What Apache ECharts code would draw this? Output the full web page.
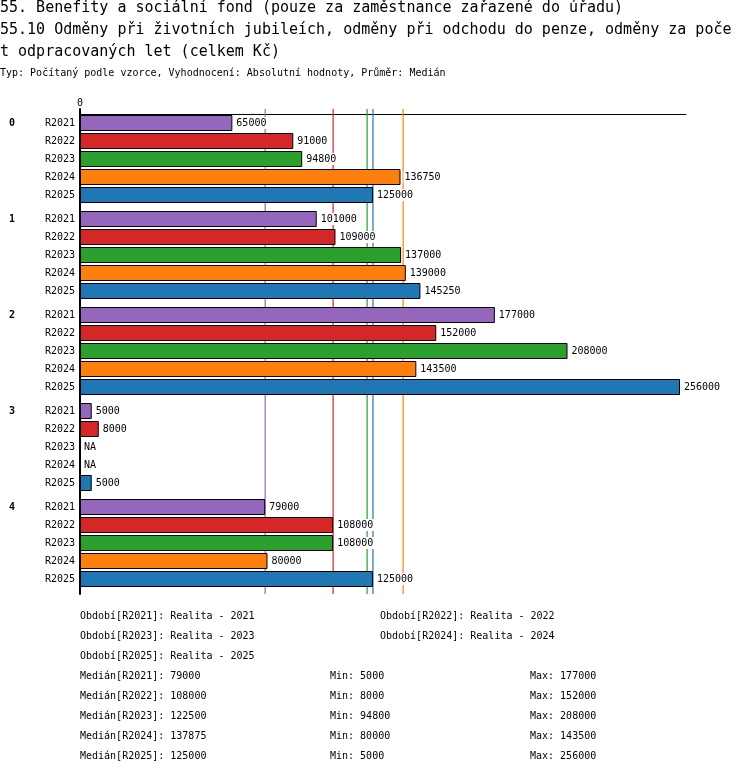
<!DOCTYPE html>
<html>
<head>
<meta charset="utf-8">
<script src="https://cdn.jsdelivr.net/npm/echarts@6/dist/echarts.min.js"></script>
<style>
	html, body { margin: 0; padding: 0; background: #fff; }
	#chart { width: 750px; height: 774px; }
</style>
</head>
<body>
<div id="chart"></div>
<script>
var titleLines = [
	'55. Benefity a sociální fond (pouze za zaměstnance zařazené do úřadu)',
	'55.10 Odměny při životních jubileích, odměny při odchodu do penze, odměny za poče',
	't odpracovaných let (celkem Kč)'
];
var subtitle = 'Typ: Počítaný podle vzorce, Vyhodnocení: Absolutní hodnoty, Průměr: Medián';

var groups = ['0', '1', '2', '3', '4'];
var periods = ['R2021', 'R2022', 'R2023', 'R2024', 'R2025'];
var periodNames = ['Realita - 2021', 'Realita - 2022', 'Realita - 2023', 'Realita - 2024', 'Realita - 2025'];
var colors = ['#9467bd', '#d62728', '#2ca02c', '#ff7f0e', '#1f77b4'];

// hodnoty podle období, jedna položka na skupinu (null = NA)
var r2021 = [65000, 101000, 177000, 5000, 79000];
var r2022 = [91000, 109000, 152000, 8000, 108000];
var r2023 = [94800, 137000, 208000, null, 108000];
var r2024 = [136750, 139000, 143500, null, 80000];
var r2025 = [125000, 145250, 256000, 5000, 125000];
var values = [r2021, r2022, r2023, r2024, r2025];

var xMax = 258560;
var mono = 'DejaVu Sans Mono';

function median(arr) {
	var a = arr.filter(function(v) { return v !== null; }).sort(function(x, y) { return x - y; });
	var m = Math.floor(a.length / 2);
	return a.length % 2 ? a[m] : (a[m - 1] + a[m]) / 2;
}
function realOnly(arr) {
	return arr.filter(function(v) { return v !== null; });
}

var left = 80, width = 606, top0 = 114, groupStep = 96, rowH = 18;

var grids = [], xAxes = [], yAxes = [], series = [];

groups.forEach(function(g, gi) {
	grids.push({ left: left, width: width, top: top0 + gi * groupStep, height: rowH * periods.length });
	xAxes.push({
		gridIndex: gi, type: 'value', min: 0, max: xMax,
		position: 'top',
		show: gi === 0,
		axisLine: { show: true, lineStyle: { color: '#000', width: 1 } },
		axisTick: { show: true, customValues: [0], length: 5, lineStyle: { color: '#000', width: 2 } },
		axisLabel: { show: true, customValues: [0], margin: 6, color: '#000', fontFamily: mono, fontSize: 10 },
		splitLine: { show: false }
	});
	yAxes.push({
		gridIndex: gi, type: 'category', inverse: true, data: periods,
		axisLine: { show: false }, axisTick: { show: false },
		axisLabel: { margin: 5, color: '#000', fontFamily: mono, fontSize: 10 }
	});
	yAxes.push({
		gridIndex: gi, type: 'category', inverse: true,
		data: [g, '', '', '', ''],
		position: 'left', offset: 71,
		axisLine: { show: false }, axisTick: { show: false },
		axisLabel: { margin: 0, align: 'left', color: '#000', fontFamily: mono, fontSize: 10, fontWeight: 'bold' }
	});
	series.push({
		type: 'bar',
		xAxisIndex: gi,
		yAxisIndex: gi * 2,
		barWidth: 16,
		silent: true,
		z: 3,
		data: periods.map(function(p, pi) {
			var v = values[pi][gi];
			if (v === null) {
				return {
					value: 0,
					itemStyle: { color: 'rgba(0,0,0,0)', borderWidth: 0 },
					label: { formatter: 'NA' }
				};
			}
			return { value: v, itemStyle: { color: colors[pi] } };
		}),
		itemStyle: { borderColor: '#000', borderWidth: 1 },
		label: {
			show: true, position: 'right', distance: 3,
			color: '#000', fontFamily: mono, fontSize: 10,
			backgroundColor: '#fff', padding: [1, 1, 1, 1]
		}
	});
});

// překryvná mřížka pro mediány a levou osu
var ov = groups.length;
grids.push({ left: left, width: width, top: 109, height: 485 });
xAxes.push({ gridIndex: ov, type: 'value', min: 0, max: xMax, show: false });
yAxes.push({
	gridIndex: ov, type: 'value', min: 0, max: 1,
	axisLine: { show: true, lineStyle: { color: '#000', width: 2 } },
	axisTick: { show: false }, axisLabel: { show: false }, splitLine: { show: false }
});
periods.forEach(function(p, pi) {
	var m = median(values[pi]);
	series.push({
		type: 'line',
		xAxisIndex: ov,
		yAxisIndex: yAxes.length - 1,
		data: [[m, 0], [m, 1]],
		symbol: 'none',
		silent: true,
		z: 1,
		lineStyle: { color: colors[pi], width: 1.2 }
	});
});

// texty
var graphics = [];
var txt = function(x, y, text, size) {
	graphics.push({
		type: 'text', x: x, y: y,
		style: { text: text, fill: '#000', font: size + 'px "' + mono + '"', verticalAlign: 'middle' }
	});
};
titleLines.forEach(function(t, i) { txt(0, 8 + i * 22, t, 15); });
txt(0, 73, subtitle, 10);

var legendY = 616, legendStep = 20;
periods.forEach(function(p, pi) {
	var row = Math.floor(pi / 2);
	var col = pi % 2;
	txt(col ? 380 : 80, legendY + row * legendStep, 'Období[' + p + ']: ' + periodNames[pi], 10);
});
var statsY = legendY + Math.ceil(periods.length / 2) * legendStep;
periods.forEach(function(p, pi) {
	var y = statsY + pi * legendStep;
	var real = realOnly(values[pi]);
	txt(80, y, 'Medián[' + p + ']: ' + median(values[pi]), 10);
	txt(330, y, 'Min: ' + Math.min.apply(null, real), 10);
	txt(530, y, 'Max: ' + Math.max.apply(null, real), 10);
});

var myChart = echarts.init(document.getElementById('chart'));
myChart.setOption({
	animation: false,
	backgroundColor: '#fff',
	grid: grids,
	xAxis: xAxes,
	yAxis: yAxes,
	series: series,
	graphic: graphics
});
</script>
</body>
</html>
